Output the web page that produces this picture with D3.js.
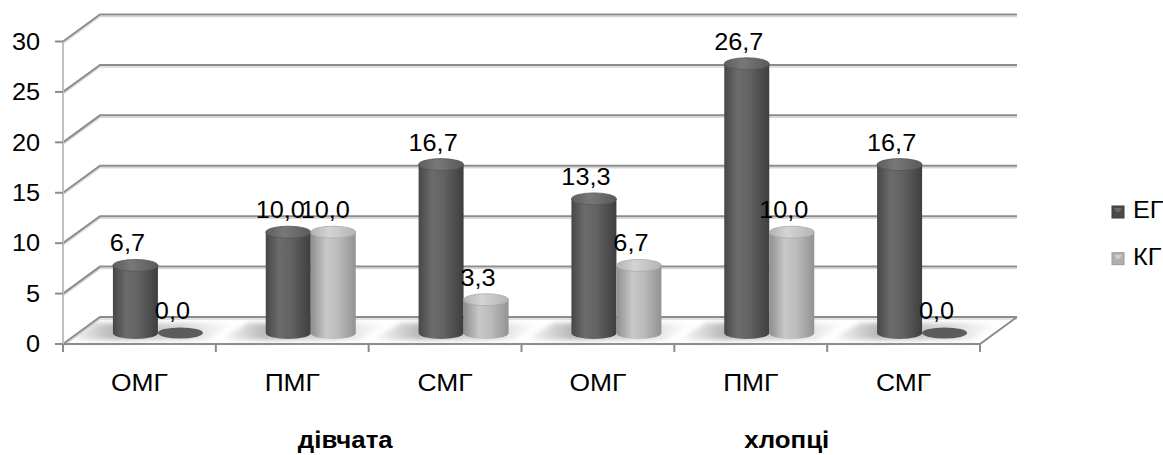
<!DOCTYPE html>
<html><head><meta charset="utf-8">
<script src="https://cdn.jsdelivr.net/npm/d3@7"></script>
<style>
html,body{margin:0;padding:0;background:#fff;}
svg{display:block;}
text{font-family:"Liberation Sans",Arial,sans-serif;fill:#000;}
</style>
</head><body>
<svg id="chart" width="1163" height="455"></svg>
<script>
// Data
const categories = ["ОМГ", "ПМГ", "СМГ", "ОМГ", "ПМГ", "СМГ"];
const groups = ["дівчата", "хлопці"];
const seriesNames = ["ЕГ", "КГ"];
const valuesEG = [6.7, 10.0, 16.7, 13.3, 26.7, 16.7];
const valuesKG = [0.0, 10.0, 3.3, 6.7, 10.0, 0.0];
const yTicks = [0, 5, 10, 15, 20, 25, 30];

const series = [valuesEG, valuesKG];
const fmt = v => v.toFixed(1).replace(".", ",");

const svg = d3.select("#chart");

// Projection of the 3D box: back wall offset and the plane the bars stand in
const DX = 37, DY = -27;     // back wall
const BX = 18.5, BY = -11;   // bar plane
const TX = 1.1;              // horizontal text stretch

const x = d3.scaleBand().domain(d3.range(categories.length)).range([63, 980]).padding(0);
const y = d3.scaleLinear().domain([0, 30]).range([344, 41.5]);
const xs = d3.scaleBand().domain(seriesNames).range([-45, 45]).padding(0);
const bw = xs.bandwidth();
const rx = bw / 2, ry = 6;

const defs = svg.append("defs");
function hGrad(id, stops) {
  const g = defs.append("linearGradient").attr("id", id)
    .attr("x1", 0).attr("x2", 1).attr("y1", 0).attr("y2", 0);
  stops.forEach(([o, c, op]) => g.append("stop").attr("offset", o)
    .attr("stop-color", c).attr("stop-opacity", op === undefined ? 1 : op));
}
hGrad("bodyEG", [[0, "#474747"], [0.3, "#6c6c6c"], [0.55, "#636363"], [1, "#3e3e3e"]]);
hGrad("bodyKG", [[0, "#8e8e8e"], [0.35, "#c8c8c8"], [0.6, "#bcbcbc"], [1, "#929292"]]);
hGrad("topEG", [[0, "#5e5e5e"], [0.4, "#787878"], [1, "#5a5a5a"]]);
hGrad("topKG", [[0, "#b2b2b2"], [0.4, "#d4d4d4"], [1, "#b4b4b4"]]);
hGrad("shadow", [[0, "#9a9a9a", 0], [0.28, "#a0a0a0", 0.75], [0.7, "#b4b4b4", 0.55], [1, "#c8c8c8", 0]]);
defs.append("filter").attr("id", "soft").attr("x", "-20%").attr("y", "-50%").attr("width", "140%").attr("height", "200%")
  .append("feGaussianBlur").attr("stdDeviation", 2.5);

function label(g, tx, ty, str, anchor, size, weight) {
  return g.append("text")
    .attr("transform", `translate(${tx},${ty}) scale(${TX},1)`)
    .attr("text-anchor", anchor)
    .style("font-size", size + "px")
    .style("font-weight", weight || "normal")
    .text(str);
}

// Walls and gridlines
const grid = svg.append("g");
const x0 = x.range()[0], x1 = x.range()[1];
yTicks.forEach(t => {
  const yf = y(t), yb = y(t) + DY;
  grid.append("path")
    .attr("d", `M${x0},${yf + 2}L${x0 + DX},${yb + 2}L${x1 + DX},${yb + 2}`)
    .attr("fill", "none").attr("stroke", "#d9d9d9").attr("stroke-width", 1.5);
  grid.append("path")
    .attr("d", `M${x0},${yf}L${x0 + DX},${yb}L${x1 + DX},${yb}`)
    .attr("fill", "none").attr("stroke", "#8c8c8c").attr("stroke-width", 2);
});
// floor front and right edges
grid.append("path")
  .attr("d", `M${x0},${y(0)}L${x1},${y(0)}L${x1 + DX},${y(0) + DY}`)
  .attr("fill", "none").attr("stroke", "#8c8c8c").attr("stroke-width", 2);
// vertical value axis
grid.append("line").attr("x1", x0).attr("x2", x0).attr("y1", y(30)).attr("y2", y(0))
  .attr("stroke", "#c0c0c0").attr("stroke-width", 2);

// Y ticks and labels
const yAxis = svg.append("g");
yTicks.forEach(t => {
  yAxis.append("line").attr("x1", x0 - 8).attr("x2", x0).attr("y1", y(t)).attr("y2", y(t))
    .attr("stroke", "#8c8c8c").attr("stroke-width", 2);
  label(yAxis, 40, y(t) + 8.3, String(t), "end", 23);
});

// X ticks and category labels
const xAxis = svg.append("g");
d3.range(categories.length + 1).forEach(i => {
  const xx = i < categories.length ? x(i) : x1;
  xAxis.append("line").attr("x1", xx).attr("x2", xx).attr("y1", y(0)).attr("y2", y(0) + 8)
    .attr("stroke", "#8c8c8c").attr("stroke-width", 2);
});
categories.forEach((c, i) => {
  label(xAxis, x(i) + x.bandwidth() / 2, 391, c, "middle", 24);
});
// group labels
const groupCenters = [[0, 2], [3, 5]].map(([a, b]) => (x(a) + x(b) + x.bandwidth()) / 2);
const groupShift = [53, 36];
groups.forEach((gname, i) => {
  label(xAxis, groupCenters[i] + groupShift[i], 448, gname, "middle", 23.5, "bold");
});

// Floor shadows
const shadows = svg.append("g").attr("filter", "url(#soft)");
categories.forEach((c, i) => {
  const cx = x(i) + x.bandwidth() / 2;
  const l = cx - 45 - 28, r = cx + 45 + 22;
  shadows.append("path")
    .attr("d", `M${l},${y(0) - 4}L${r},${y(0) - 4}L${r + DX - 8},${y(0) + DY + 6}L${l + DX - 8},${y(0) + DY + 6}Z`)
    .attr("fill", "url(#shadow)");
});

// Cylinders
const bars = svg.append("g");
const labels = svg.append("g");
categories.forEach((c, i) => {
  seriesNames.forEach((s, k) => {
    const v = series[k][i];
    const cx = x(i) + x.bandwidth() / 2 + BX + xs(s) + bw / 2;
    const yt = y(v) + BY, yb = y(0) + BY;
    const l = cx - rx, r = cx + rx;
    const key = s === "ЕГ" ? "EG" : "KG";
    const g = bars.append("g");
    if (v > 0) {
      g.append("path")
        .attr("d", `M${l},${yt}L${l},${yb}A${rx},${ry} 0 0 0 ${r},${yb}L${r},${yt}Z`)
        .attr("fill", `url(#body${key})`);
      g.append("ellipse").attr("cx", cx).attr("cy", yt).attr("rx", rx).attr("ry", ry)
        .attr("fill", `url(#top${key})`)
        .attr("stroke", key === "EG" ? "#555" : "#a8a8a8").attr("stroke-width", 0.8);
    } else {
      g.append("ellipse").attr("cx", cx).attr("cy", yt).attr("rx", rx).attr("ry", ry - 0.5)
        .attr("fill", "#5c5c5c");
    }
    label(labels, cx - 8, yt - 14, fmt(v), "middle", 23);
  });
});

// Legend
const legend = svg.append("g");
const legendFill = [["#4a4a4a", "#6a6a6a", "#3a3a3a"], ["#b0b0b0", "#d0d0d0", "#999"]];
seriesNames.forEach((s, k) => {
  const ly = 206 + k * 46.7;
  legend.append("rect").attr("x", 1112).attr("y", ly).attr("width", 12).attr("height", 12)
    .attr("fill", legendFill[k][0]).attr("stroke", legendFill[k][2]).attr("stroke-width", 1);
  legend.append("path").attr("d", `M${1114},${ly + 2}L${1122},${ly + 2}L${1119.5},${ly + 6}L${1116.5},${ly + 6}Z`)
    .attr("fill", legendFill[k][1]);
  label(legend, 1133, ly + 12.3, s, "start", 23);
});
</script>
</body></html>
